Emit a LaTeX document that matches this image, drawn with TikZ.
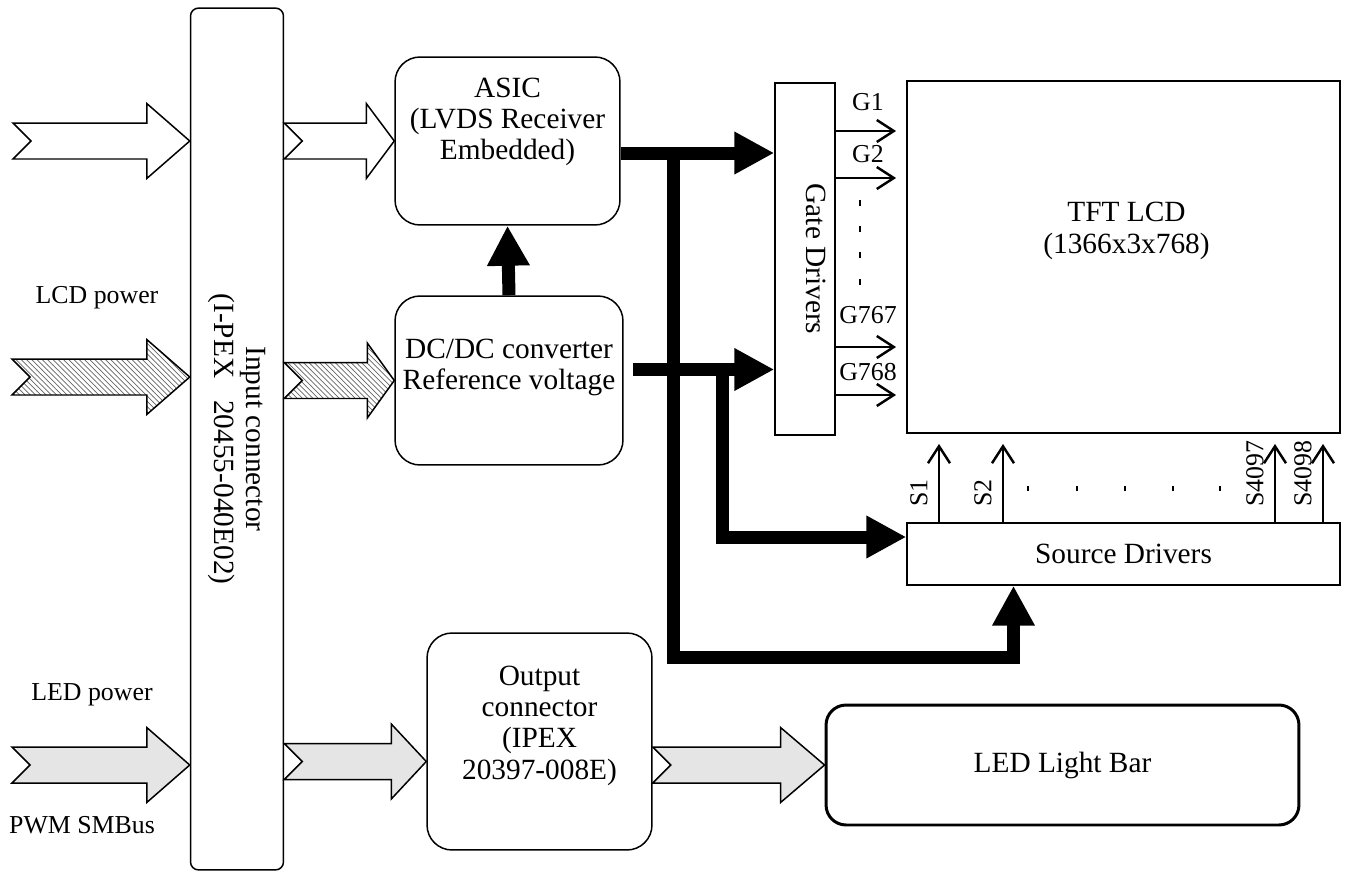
\documentclass[tikz,border=0pt]{standalone}
\usepackage{fontspec}
\setmainfont{Liberation Serif}
\usetikzlibrary{arrows.meta,calc,patterns,positioning}

\newcommand{\mainsz}{\fontsize{16.7pt}{17.8pt}\selectfont}
\newcommand{\smallsz}{\fontsize{14.7pt}{17pt}\selectfont}
% freccia larga con coda a V: stile, coda, punta, lunghezza punta
\newcommand{\fatarrow}[4][]{%
  \draw[fat,#1] let \p1=(#2), \p2=(#3) in
    (\x1,\y2+0.36cm) -- (\x2-#4,\y2+0.36cm) -- (\x2-#4,\y2+0.75cm) -- (\p2)
    -- (\x2-#4,\y2-0.75cm) -- (\x2-#4,\y2-0.36cm) -- (\x1,\y2-0.36cm)
    -- (\x1+0.36cm,\y2) -- cycle;}

\begin{document}
\begin{tikzpicture}
        [x=0.02cm, y=-0.02cm,
         box/.style={draw, line width=0.85pt, inner sep=0pt},
         rbox/.style={box, rounded corners=0.5cm},
         txt/.style={font=\mainsz, align=center, inner sep=0pt},
         lab/.style={font=\smallsz, inner sep=0pt},
         fat/.style={line width=0.85pt, line join=miter},
         bus/.style={line width=0.26cm, line join=miter, -{Triangle[length=0.8cm, width=0.8cm]}},
         gout/.style={line width=1.4pt, shorten >=0.2cm, -{Straight Barb[length=0.34cm, width=0.44cm]}},
         tick/.style={line width=0.85pt}]
        \useasboundingbox (0,0) rectangle (1350,876);
            %blocchi
            \node[rbox, rounded corners=0.16cm, minimum width=1.86cm, minimum height=17.24cm] (incon) at (237,439) {};
            \node[rbox, minimum width=4.5cm, minimum height=3.36cm] (asic) at (507.5,141) {};
            \node[rbox, minimum width=4.56cm, minimum height=3.38cm] (dcdc) at (509,380.5) {};
            \node[rbox, minimum width=4.5cm, minimum height=4.34cm] (outcon) at (539.5,741.5) {};
            \node[box, minimum width=1.2cm, minimum height=7.04cm] (gate) at (805,259) {};
            \node[box, line width=1.13pt, minimum width=8.66cm, minimum height=7.04cm] (tft) at (1123.5,257) {};
            \node[box, minimum width=8.66cm, minimum height=1.24cm] (src) at (1123.5,554) {};
            \node[rbox, line width=1.7pt, rounded corners=0.4cm, minimum width=9.46cm, minimum height=2.4cm, font=\mainsz] (ledbar) at (1062.5,765) {LED Light Bar};
            %testi dei blocchi
            \node[txt, rotate=-90] (incontext) at (incon.center) {Input connector\\(I-PEX\hspace{0.75em}20455-040E02)};
            \node[txt] (asictext) at ($(asic.center)+(0,-19)$) {ASIC\\(LVDS Receiver\\Embedded)};
            \node[txt] (dcdctext) at ($(dcdc.center)+(0,-13)$) {DC/DC converter\\Reference voltage};
            \node[txt] (outcontext) at ($(outcon.center)+(0,-16)$) {Output\\connector\\(IPEX\\20397-008E)};
            \node[txt, rotate=-90] (gatetext) at ($(gate.center)+(11,0)$) {Gate Drivers};
            \node[txt] (tfttext) at ($(tft.center)+(3,-26)$) {TFT LCD\\(1366x3x768)};
            \node[txt] (srctext) at (src.center) {Source Drivers};
            %label ingressi
            \node[lab] (lcdpw) at (97,298) {LCD power};
            \node[lab] (ledpw) at (92,695) {LED power};
            \node[lab] (pwm) at (82,825) {PWM SMBus};

            %frecce larghe
            \coordinate (in1) at (13,141);
            \coordinate (in2) at (12,377);
            \coordinate (in3) at (12,765);
            \coordinate (outin) at ($(outcon.west)+(0,20)$);
            \fatarrow{in1}{incon.west |- in1}{0.86cm}
            \fatarrow[pattern=north west lines, pattern color=black!60]{in2}{incon.west |- in2}{0.86cm}
            \fatarrow[fill=black!10]{in3}{incon.west |- in3}{0.86cm}
            \fatarrow{incon.east |- asic.west}{asic.west}{0.56cm}
            \fatarrow[pattern=north west lines, pattern color=black!60]{incon.east |- dcdc.west}{dcdc.west}{0.54cm}
            \fatarrow[fill=black!10]{incon.east |- outin}{outin}{0.7cm}
            \fatarrow[fill=black!10]{outcon.east |- ledbar.west}{ledbar.west}{0.88cm}

            %bus spessi
            \coordinate (asicout) at ($(asic.east)+(0,12)$);
            \coordinate (dcout) at ($(dcdc.east)+(9,-11)$);
            \coordinate (j1) at ($(asicout)+(53,0)$);
            \coordinate (j2) at ($(dcout)+(90,0)$);
            \coordinate (srcin) at ($(src.south)+(-110,0)$);
            \draw[bus] (dcdc.north) -- (asic.south);
            \draw[bus] (asicout) -- (asicout -| gate.west);
            \draw[bus] (dcout) -- (dcout -| gate.west);
            \draw[bus] (j1) |- ($(srcin)+(0,72)$) -- (srcin);
            \draw[bus] (j2) |- ($(src.west)+(0,-17)$);

            %linee di gate
            \foreach \y/\g/\dy in {131/G1/29, 178/G2/24, 347/G767/32, 395/G768/23} {
                \draw[gout] (gate.east |- 0,\y) -- (tft.west |- 0,\y);
                \node[lab] (\g) at (868,\y-\dy) {\g};
            }
            \foreach \y in {203,229,255,282}
                \draw[tick] (860,\y-3) -- (860,\y+3);
            %linee di source
            \foreach \x/\s in {939/S1, 1003/S2, 1275/S4097, 1323/S4098} {
                \draw[gout] (src.north -| \x,0) -- (tft.south -| \x,0);
                \node[lab, rotate=90, anchor=west] (\s) at (\x-20,507) {\s};
            }
            \foreach \x in {1028,1077,1125,1173,1220}
                \draw[tick] (\x,486) -- (\x,491);
\end{tikzpicture}
\end{document}
